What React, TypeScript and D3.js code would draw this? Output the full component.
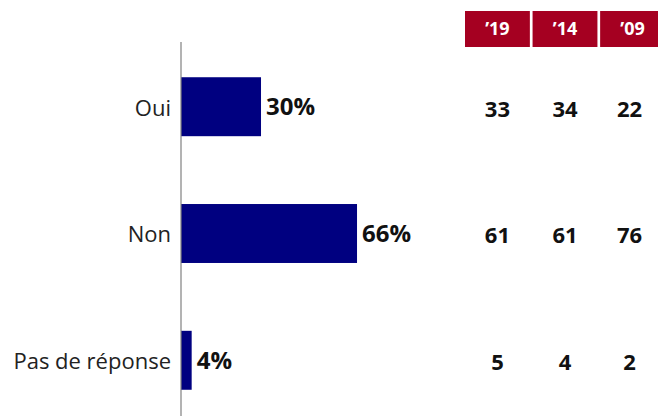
import React from "react";
import * as d3 from "d3";

const categories = ["Oui", "Non", "Pas de réponse"];
const values = [30, 66, 4];
const years = ["’19", "’14", "’09"];
const col19 = [33, 61, 5];
const col14 = [34, 61, 4];
const col09 = [22, 76, 2];

const W = 658;
const H = 416;

export default function App() {
  const x = d3.scaleLinear().domain([0, 100]).range([181, 181 + 266.7]);
  const y = d3.scaleBand<string>().domain(categories).range([43, 424]).paddingInner(0.535).paddingOuter(0.27);
  const colX = d3.scaleBand<string>().domain(years).range([465, 665]).paddingInner(0.04);
  const cols = [col19, col14, col09];
  const font = "'Open Sans', sans-serif";
  return (
    <svg width={W} height={H} style={{ position: "absolute", left: 0, top: 0 }} fontFamily={font}>
      {years.map((yr) => (
        <g key={yr}>
          <rect x={colX(yr)} y={11} width={colX.bandwidth()} height={36} fill="#A50021" />
          <text x={(colX(yr) as number) + colX.bandwidth() / 2} y={29} dy="0.36em" textAnchor="middle" fill="#fff" fontWeight="bold" fontSize={18}>
            {yr}
          </text>
        </g>
      ))}
      {categories.map((c, i) => {
        const cy = (y(c) as number) + y.bandwidth() / 2;
        return (
          <g key={c}>
            <rect x={x(0)} y={y(c)} width={x(values[i]) - x(0)} height={y.bandwidth()} fill="#000080" />
            <text x={x(values[i]) + 5} y={cy} dy="0.36em" fontWeight="bold" fontSize={24} fill="#111">
              {values[i]}%
            </text>
            <text x={x(0) - 10} y={cy + 1} dy="0.36em" textAnchor="end" fontSize={22} fill="#222">
              {c}
            </text>
            {cols.map((col, j) => (
              <text key={j} x={(colX(years[j]) as number) + colX.bandwidth() / 2 - (j === 2 ? 3 : 0)} y={cy + 2} dy="0.36em" textAnchor="middle" fontWeight="bold" fontSize={22} fill="#111">
                {col[i]}
              </text>
            ))}
          </g>
        );
      })}
      <line x1={x(0)} x2={x(0)} y1={42} y2={H} stroke="#808080" strokeWidth={1.2} />
    </svg>
  );
}
